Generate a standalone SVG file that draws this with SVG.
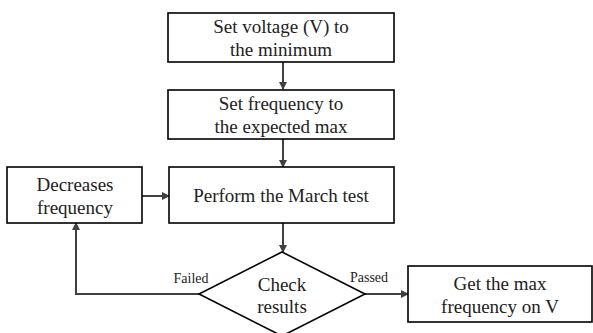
<svg xmlns="http://www.w3.org/2000/svg" width="593" height="333" viewBox="0 0 593 333">
<style>
.box{fill:#fff;stroke:#000;stroke-width:1.6}
.t{font-family:'Liberation Serif','DejaVu Serif','Times New Roman',Times,serif;font-size:19px;fill:#222;text-anchor:middle}
.l{font-family:'Liberation Serif','DejaVu Serif','Times New Roman',Times,serif;font-size:14px;fill:#222;text-anchor:middle}
.c{fill:none;stroke:#404040;stroke-width:2}
</style>
<defs>
<marker id="ah" markerWidth="8" markerHeight="8" refX="7" refY="4" orient="auto" markerUnits="userSpaceOnUse" viewBox="0 0 8 8">
<path d="M0,0 L8,4 L0,8 z" fill="#404040"/>
</marker>
</defs>
<g id="connectors">
<line class="c" x1="283" y1="62" x2="283" y2="89" marker-end="url(#ah)"/>
<line class="c" x1="283" y1="139" x2="283" y2="167" marker-end="url(#ah)"/>
<line class="c" x1="142" y1="196" x2="169" y2="196" marker-end="url(#ah)"/>
<line class="c" x1="283" y1="223" x2="283" y2="252" marker-end="url(#ah)"/>
<polyline class="c" points="199,294 76,294 76,223" marker-end="url(#ah)"/>
<line class="c" x1="365" y1="294" x2="408" y2="294" marker-end="url(#ah)"/>
<text class="l" x="191" y="283">Failed</text>
<text class="l" x="369" y="282">Passed</text>
</g>
<g id="n1">
<rect class="box" x="168" y="13" width="226" height="49"/>
<text class="t" x="281" y="33">Set voltage (V) to</text>
<text class="t" x="281" y="56">the minimum</text>
</g>
<g id="n2">
<rect class="box" x="168" y="90" width="226" height="49"/>
<text class="t" x="281" y="110">Set frequency to</text>
<text class="t" x="281" y="133">the expected max</text>
</g>
<g id="n3">
<rect class="box" x="169" y="167" width="225" height="56"/>
<text class="t" x="281" y="202">Perform the March test</text>
</g>
<g id="n4">
<rect class="box" x="7" y="167" width="135" height="56"/>
<text class="t" x="75" y="191">Decreases</text>
<text class="t" x="75" y="214">frequency</text>
</g>
<g id="n5">
<polygon class="box" points="282,252 365,294 282,336 199,294"/>
<text class="t" x="282" y="291">Check</text>
<text class="t" x="282" y="313">results</text>
</g>
<g id="n6">
<rect class="box" x="408" y="266" width="184" height="56"/>
<text class="t" x="500" y="290">Get the max</text>
<text class="t" x="500" y="313">frequency on V</text>
</g>
</svg>
